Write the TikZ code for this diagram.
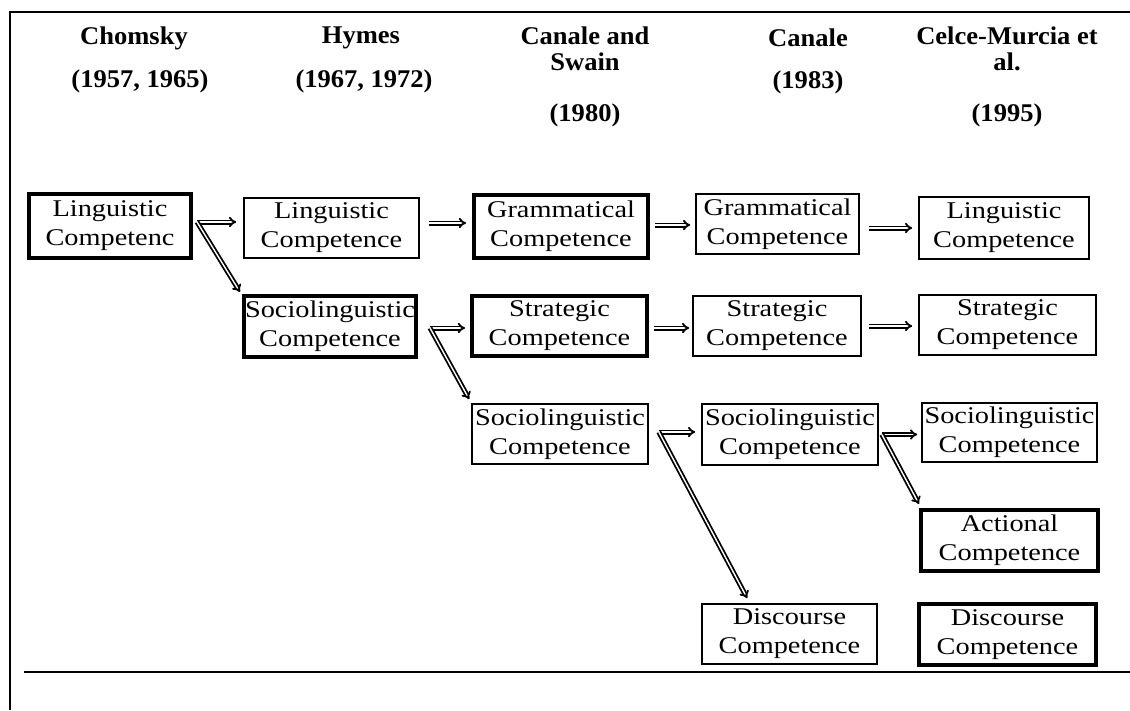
\documentclass[tikz,border=0pt]{standalone}
\usepackage{fontspec}
\setmainfont{Liberation Serif}[FakeStretch=1.18]
\newfontfamily\headfont{Liberation Serif}[FakeStretch=1.04]
\usetikzlibrary{arrows.meta}

\tikzset{
  cbox/.style={draw, line width=1.6pt, align=center, inner sep=0pt,
               font=\fontsize{24}{29}\selectfont},
  heavy/.style={line width=4pt},
  hdr/.style={align=center, inner sep=0pt,
              font=\headfont\bfseries\fontsize{25.5}{26}\selectfont},
  dbl/.style={double, double distance=1.4pt, line width=1.8pt, -{Implies}},
}

\begin{document}
\begin{tikzpicture}[x=1pt, y=-1pt]
\useasboundingbox (0,0) rectangle (1130,710);

% frame
\draw[line width=2.5pt] (1130,12) -- (10,12) -- (10,710);
\draw[line width=1.2pt] (24,672) -- (1130,672);

% column headings
\node[hdr] (h1) at (134,38) {Chomsky};
\node[hdr] (y1) at (140,81) {(1957, 1965)};
\node[hdr] (h2) at (361,38) {Hymes};
\node[hdr] (y2) at (364,81) {(1967, 1972)};
\node[hdr] (h3) at (585,49) {Canale and\\Swain};
\node[hdr] (y3) at (585,115) {(1980)};
\node[hdr] (h4) at (808,38) {Canale};
\node[hdr] (y4) at (808,82) {(1983)};
\node[hdr] (h5) at (1007,49) {Celce-Murcia et\\al.};
\node[hdr] (y5) at (1007,115) {(1995)};

% competence boxes
\node[cbox, heavy, minimum width=162pt, minimum height=64pt] (chom) at (110,226) {Linguistic\\Competenc};

\node[cbox, minimum width=175pt, minimum height=60pt] (lin2) at (331.5,228) {Linguistic\\Competence};
\node[cbox, heavy, minimum width=172pt, minimum height=61pt] (soc2) at (330,326.5) {Sociolinguistic\\Competence};

\node[cbox, heavy, minimum width=174pt, minimum height=63pt] (gra3) at (561,226.5) {Grammatical\\Competence};
\node[cbox, heavy, minimum width=175pt, minimum height=60pt] (str3) at (559.5,326) {Strategic\\Competence};
\node[cbox, minimum width=176pt, minimum height=60pt] (soc3) at (560,434) {Sociolinguistic\\Competence};

\node[cbox, minimum width=163pt, minimum height=60pt] (gra4) at (777.5,224) {Grammatical\\Competence};
\node[cbox, minimum width=168pt, minimum height=60pt] (str4) at (777,326) {Strategic\\Competence};
\node[cbox, minimum width=176pt, minimum height=61pt] (soc4) at (790,434.5) {Sociolinguistic\\Competence};
\node[cbox, minimum width=175pt, minimum height=60pt] (dis4) at (789.5,634) {Discourse\\Competence};

\node[cbox, minimum width=170pt, minimum height=62pt] (lin5) at (1004,228) {Linguistic\\Competence};
\node[cbox, minimum width=177pt, minimum height=60pt] (str5) at (1007.5,325) {Strategic\\Competence};
\node[cbox, minimum width=175pt, minimum height=59pt] (soc5) at (1009.5,432.5) {Sociolinguistic\\Competence};
\node[cbox, heavy, minimum width=177pt, minimum height=61pt] (act5) at (1009.5,540.5) {Actional\\Competence};
\node[cbox, heavy, minimum width=177pt, minimum height=61pt] (dis5) at (1007.5,634.5) {Discourse\\Competence};

% fork points where two arrows leave one box
\coordinate (f1) at ([xshift=4pt,yshift=4pt]chom.east);
\coordinate (f3) at ([xshift=12pt,yshift=-1.5pt]soc2.east);
\coordinate (f4) at ([xshift=10pt,yshift=2pt]soc3.east);
\coordinate (f5) at ([xshift=3pt]soc4.east);
\coordinate (s2) at ([xshift=9pt,yshift=5pt]lin2.east);
\coordinate (s3) at ([xshift=5pt,yshift=1.5pt]gra3.east);
\coordinate (s4) at ([xshift=9pt,yshift=-4pt]gra4.east);
\coordinate (t3) at ([xshift=5pt,yshift=-2pt]str3.east);
\coordinate (t4) at ([xshift=7pt]str4.east);

% arrows
\draw[dbl, shorten >=7pt] (f1) -- (f1 -| lin2.west);
\draw[dbl] (f1) -- ([xshift=-2pt,yshift=2pt]soc2.north west);

\draw[dbl, shorten >=6pt] (s2) -- (s2 -| gra3.west);
\draw[dbl, shorten >=5pt] (s3) -- (s3 -| gra4.west);
\draw[dbl, shorten >=6pt] (s4) -- (s4 -| lin5.west);

\draw[dbl, shorten >=5pt] (f3) -- (f3 -| str3.west);
\draw[dbl] (f3) -- ([xshift=-2pt,yshift=4pt]soc3.north west);
\draw[dbl, shorten >=3pt] (t3) -- (t3 -| str4.west);
\draw[dbl, shorten >=6pt] (t4) -- (t4 -| str5.west);

\draw[dbl, shorten >=6pt] (f4) -- (f4 -| soc4.west);
\draw[dbl] (f4) -- ([xshift=46pt,yshift=5pt]dis4.north west);

\draw[dbl, shorten >=4pt] (f5) -- (f5 -| soc5.west);
\draw[dbl] (f5) -- ([yshift=4pt]act5.north west);
\end{tikzpicture}
\end{document}
